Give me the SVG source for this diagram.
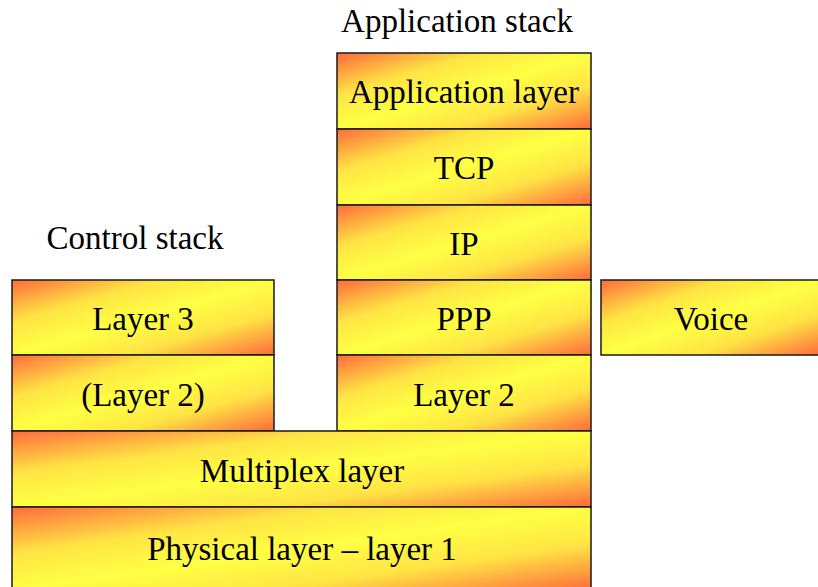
<svg xmlns="http://www.w3.org/2000/svg" width="818" height="587" viewBox="0 0 818 587">
<defs>
<linearGradient id="g" x1="0" y1="0" x2="1" y2="1">
<stop offset="0" stop-color="#FF6A3C"/>
<stop offset="0.28" stop-color="#FFE444"/>
<stop offset="0.5" stop-color="#FFFF44"/>
<stop offset="0.72" stop-color="#FFE444"/>
<stop offset="1" stop-color="#FF6A3C"/>
</linearGradient>
</defs>
<style>
.b{fill:url(#g);stroke:#1a1a1a;stroke-width:1.5}
.t{font-family:"Liberation Serif","Times New Roman",serif;font-size:33px;fill:#000;text-anchor:middle}
.h{font-family:"Liberation Serif","Times New Roman",serif;font-size:33px;fill:#000;text-anchor:middle}
</style>
<rect width="818" height="587" fill="#fff"/>
<text class="h" x="457" y="32">Application stack</text>
<text class="h" x="135" y="249">Control stack</text>
<g id="app-layer"><rect class="b" x="337" y="53" width="254" height="76"/><text class="t" x="464" y="103">Application layer</text></g>
<g id="tcp"><rect class="b" x="337" y="129" width="254" height="76"/><text class="t" x="464" y="179">TCP</text></g>
<g id="ip"><rect class="b" x="337" y="205" width="254" height="75"/><text class="t" x="464" y="255">IP</text></g>
<g id="ppp"><rect class="b" x="337" y="280" width="254" height="75"/><text class="t" x="464" y="330">PPP</text></g>
<g id="layer2-app"><rect class="b" x="337" y="355" width="254" height="76"/><text class="t" x="464" y="406">Layer 2</text></g>
<g id="layer3"><rect class="b" x="12" y="280" width="262" height="75"/><text class="t" x="143" y="330">Layer 3</text></g>
<g id="layer2-ctrl"><rect class="b" x="12" y="355" width="262" height="76"/><text class="t" x="143" y="406">(Layer 2)</text></g>
<g id="voice"><rect class="b" x="601" y="280" width="220" height="75"/><text class="t" x="711" y="330">Voice</text></g>
<g id="multiplex"><rect class="b" x="12" y="431" width="579" height="76"/><text class="t" x="302" y="482">Multiplex layer</text></g>
<g id="physical"><rect class="b" x="12" y="507" width="579" height="84"/><text class="t" x="302" y="560">Physical layer – layer 1</text></g>
<g id="connectors"></g>
</svg>
